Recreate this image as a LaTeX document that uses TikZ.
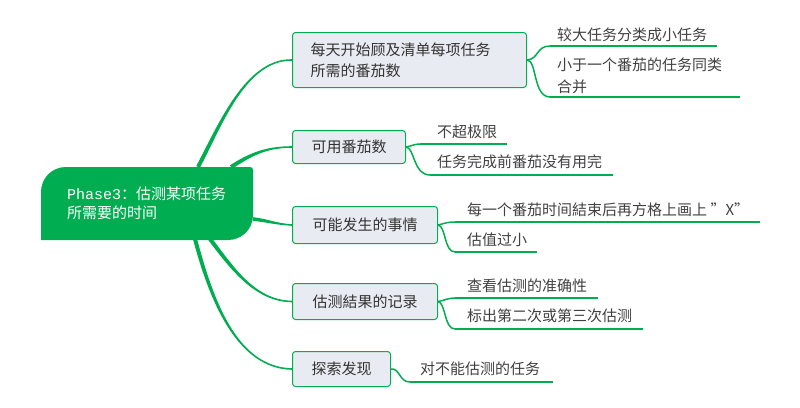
\documentclass[tikz,border=0pt]{standalone}
\usepackage{fontspec}
\setmainfont{Noto Sans CJK SC}
\newfontfamily\monofont{Liberation Mono}
\usetikzlibrary{calc}
\definecolor{mmgreen}{RGB}{0,173,80}
\definecolor{boxfill}{RGB}{233,235,242}
\definecolor{txtc}{RGB}{51,51,51}
\definecolor{leafc}{RGB}{64,64,64}
\newcommand\tapr[6]{\fill[mmgreen] ($#1+#5$) .. controls ($#2+#5$) and ($#3+#6$) .. ($#4+#6$) -- ($#4-#6$) .. controls ($#3-#6$) and ($#2-#5$) .. ($#1-#5$) -- cycle;}
\begin{document}
\begin{tikzpicture}[x=1pt,y=-1pt,
  branch/.style={draw=mmgreen, line width=1pt, fill=boxfill, rounded corners=3pt, inner sep=0pt, anchor=north west, font=\fontsize{15}{21}\selectfont, text=txtc},
  leaf/.style={inner sep=0pt, anchor=west, font=\fontsize{15}{21.5}\selectfont, text=leafc, align=left},
  uline/.style={draw=mmgreen, line width=1.3pt},
  lconn/.style={draw=mmgreen, line width=1.5pt}]
\useasboundingbox (0,0) rectangle (800,407);
% root
\fill[mmgreen] (41,240) -- (41,192) .. controls (41,178) and (52,167) .. (66,167) -- (250,167) .. controls (252,167) and (253,168) .. (253,170) -- (253,215) .. controls (253,229) and (242,240) .. (228,240) -- cycle;
\node[anchor=west, inner sep=0pt, text=white, align=left, font=\fontsize{15}{19}\selectfont] (root) at (67,203) {{\monofont Phase3}：估测某项任务\\所需要的时间};
\coordinate (r1) at (198,167);
\coordinate (r2) at (231,167);
\coordinate (r3) at (253,219);
\coordinate (r4) at (210,239);
\coordinate (r5) at (195,239);
% branches
\node[branch, minimum width=234pt, minimum height=55pt, text width=198pt, align=left] (b1) at (292,32) {每天开始顾及清单每项任务\\所需的番茄数};
\node[branch, minimum width=113pt, minimum height=33pt] (b2) at (292,130) {可用番茄数};
\node[branch, minimum width=145pt, minimum height=37pt] (b3) at (292,206) {可能发生的事情};
\node[branch, minimum width=145pt, minimum height=36pt] (b4) at (292,283) {估测結果的记录};
\node[branch, minimum width=98pt, minimum height=35pt] (b5) at (292,351) {探索发现};
% root connectors
\tapr{(r1)}{(219,128)}{(245,59)}{(b1.west)}{(-1.75,-0.97)}{(0,-0.8)}
\tapr{(r2)}{(250,155)}{(265,147)}{(b2.west)}{(-1.1,-1.66)}{(0,-0.8)}
\tapr{(r3)}{(270,221)}{(275,224)}{(b3.west)}{(0,-1.8)}{(0,-0.8)}
\tapr{(r4)}{(232,268)}{(255,301)}{(b4.west)}{(1.6,-1.2)}{(0,-0.8)}
\tapr{(r5)}{(210,295)}{(235,368)}{(b5.west)}{(1.9,-0.57)}{(0,-0.8)}
% leaves
\node[leaf] (l1a) at (557,35) {较大任务分类成小任务};
\node[leaf] (l1b) at (557,76) {小于一个番茄的任务同类\\合并};
\node[leaf] (l2a) at (437,132) {不超极限};
\node[leaf] (l2b) at (437,162) {任务完成前番茄没有用完};
\node[leaf] (l3a) at (467,210) {每一个番茄时间結束后再方格上画上 ”X”};
\node[leaf] (l3b) at (467,240) {估值过小};
\node[leaf] (l4a) at (467,286) {查看估测的准确性};
\node[leaf] (l4b) at (467,316) {标出第二次或第三次估测};
\node[leaf] (l5) at (420,369) {对不能估测的任务};
% underline coordinates
\coordinate (u1as) at (550,46); \coordinate (u1ae) at (717,46);
\coordinate (u1bs) at (550,97); \coordinate (u1be) at (740,97);
\coordinate (u2as) at (420,144); \coordinate (u2ae) at (507,144);
\coordinate (u2bs) at (430,175); \coordinate (u2be) at (613,175);
\coordinate (u3as) at (455,222); \coordinate (u3ae) at (760,222);
\coordinate (u3bs) at (455,252); \coordinate (u3be) at (537,252);
\coordinate (u4as) at (455,298); \coordinate (u4ae) at (598,298);
\coordinate (u4bs) at (455,329); \coordinate (u4be) at (643,329);
\coordinate (u5s) at (410,382); \coordinate (u5e) at (553,382);
\foreach \u in {1a,1b,2a,2b,3a,3b,4a,4b,5}{\draw[uline] (u\u s) -- (u\u e);}
% leaf connectors
\draw[lconn] (b1.east) .. controls (539,59) and (536,46) .. (u1as);
\draw[lconn] (b1.east) .. controls (537,60) and (533,97) .. (u1bs);
\draw[lconn] (b2.east) .. controls (412,146) and (414,144) .. (u2as);
\draw[lconn] (b2.east) .. controls (415,148) and (413,175) .. (u2bs);
\draw[lconn] (b3.east) .. controls (446,223) and (448,222) .. (u3as);
\draw[lconn] (b3.east) .. controls (446,226) and (444,252) .. (u3bs);
\draw[lconn] (b4.east) .. controls (446,300) and (448,298) .. (u4as);
\draw[lconn] (b4.east) .. controls (446,303) and (444,329) .. (u4bs);
\draw[lconn] (b5.east) .. controls (400,368) and (399,382) .. (u5s);
\end{tikzpicture}
\end{document}
